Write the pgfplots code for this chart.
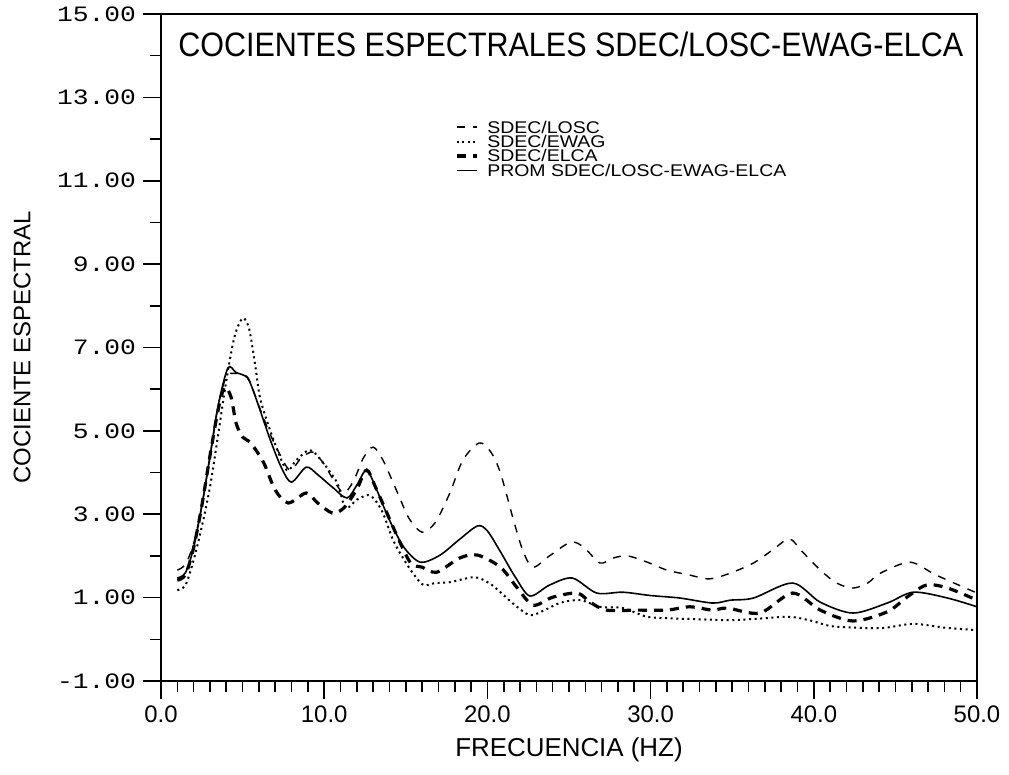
\documentclass[border=0pt]{standalone}
\usepackage{fontspec}
\setmainfont{Liberation Sans}
\newfontfamily\monoW[FakeStretch=1.2]{Liberation Mono}
\newfontfamily\sansW[FakeStretch=1.15]{Liberation Sans}
\newfontfamily\sansN[FakeStretch=0.9]{Liberation Sans}
\usepackage{pgfplots}
\pgfplotsset{compat=1.18}

\pgfplotstableread{
x y
1.0 1.66
1.5 1.80
2.0 2.30
2.5 3.20
3.0 4.40
3.5 5.60
4.0 6.30
4.5 6.38
5.3 6.29
6.0 5.60
6.6 5.00
7.2 4.50
7.9 4.06
8.6 4.35
9.3 4.49
10.0 4.20
10.6 3.80
11.2 3.51
11.8 3.80
12.4 4.35
13.0 4.61
13.6 4.30
14.5 3.51
15.2 2.90
16.0 2.57
16.8 2.80
17.7 3.51
18.5 4.30
19.5 4.71
20.2 4.50
20.8 3.99
21.6 2.86
22.2 2.10
22.8 1.73
23.8 2.00
25.1 2.33
25.9 2.21
26.9 1.83
27.7 1.95
28.6 2.00
29.8 1.85
31.0 1.66
32.3 1.55
33.6 1.45
34.9 1.59
36.3 1.83
37.5 2.15
38.5 2.41
39.3 2.10
40.4 1.66
41.4 1.35
42.4 1.23
43.3 1.35
44.1 1.59
45.9 1.85
47.5 1.54
50.0 1.11
}\losc

\pgfplotstableread{
x y
1.0 1.18
1.5 1.30
2.0 1.90
2.5 2.70
3.0 3.65
3.5 4.90
4.0 6.20
4.5 7.25
5.0 7.70
5.4 7.45
5.8 6.50
6.1 5.74
6.9 4.78
7.7 4.06
8.3 4.30
9.1 4.54
9.8 4.30
10.8 3.75
11.3 3.15
12.0 3.35
12.7 3.46
13.1 3.35
13.6 3.03
14.2 2.40
14.8 1.97
15.5 1.55
16.1 1.30
16.8 1.35
17.7 1.37
19.2 1.49
20.1 1.35
20.8 1.13
21.6 0.85
22.6 0.58
23.5 0.70
24.5 0.88
25.7 0.94
26.9 0.78
28.3 0.75
29.8 0.54
31.5 0.50
33.0 0.48
34.9 0.46
36.8 0.50
38.5 0.54
39.8 0.45
41.0 0.32
42.5 0.28
44.2 0.27
46.1 0.37
48.0 0.28
50.0 0.22
}\ewag

\pgfplotstableread{
x y
1.0 1.42
1.5 1.55
2.0 2.20
2.5 3.20
3.0 4.40
3.5 5.50
3.9 6.05
4.3 5.80
4.6 5.19
5.0 4.85
5.5 4.71
6.3 4.23
7.0 3.58
7.8 3.27
8.9 3.51
9.6 3.27
10.5 3.03
11.2 3.15
12.0 3.60
12.6 4.06
13.2 3.60
14.5 2.45
15.3 1.83
16.0 1.73
16.9 1.61
18.3 1.95
19.4 2.02
20.8 1.73
21.8 1.25
22.8 0.82
24.0 1.01
25.5 1.11
26.3 0.89
27.3 0.70
29.3 0.70
31.0 0.70
32.4 0.78
33.8 0.70
34.7 0.75
36.7 0.63
38.7 1.11
40.4 0.70
42.4 0.44
44.5 0.66
45.7 1.01
46.9 1.30
48.2 1.23
50.0 0.94
}\elca

\pgfplotstableread{
x y
1.0 1.47
1.5 1.60
2.0 2.20
2.5 3.20
3.0 4.37
3.5 5.60
4.1 6.51
4.6 6.40
5.3 6.27
5.8 5.80
6.7 4.78
7.4 4.10
8.0 3.77
8.9 4.13
9.6 3.95
10.5 3.65
11.4 3.39
12.0 3.70
12.6 4.06
13.2 3.60
14.0 2.86
14.9 2.20
15.9 1.85
17.1 2.02
18.3 2.40
19.4 2.72
20.0 2.60
20.8 2.10
21.7 1.50
22.6 1.04
23.8 1.30
25.2 1.47
26.7 1.11
28.3 1.13
30.0 1.05
31.8 0.99
33.8 0.87
34.9 0.94
36.3 0.99
38.7 1.35
40.4 0.89
42.4 0.63
44.5 0.87
46.1 1.13
48.2 0.99
50.0 0.78
}\prom

\begin{document}
\begin{tikzpicture}
\begin{axis}[
  scale only axis, width=408bp, height=333.5bp,
  xmin=0, xmax=50, ymin=-1, ymax=15,
  xtick={0,10,...,50}, xticklabels={0.0,10.0,20.0,30.0,40.0,50.0},
  ytick={-1,1,...,15}, yticklabels={-1.00,1.00,3.00,5.00,7.00,9.00,11.00,13.00,15.00},
  minor x tick num=9, minor y tick num=1,
  tick align=outside, xtick pos=left, ytick pos=left,
  major tick length=9bp, minor tick length=5.5bp,
  tick style={black, line width=0.8bp},
  axis line style={line width=1bp},
  xticklabel style={font=\fontsize{12}{12}\selectfont},
  yticklabel style={font=\monoW\fontsize{11}{11}\selectfont},
  xlabel={FRECUENCIA (HZ)}, ylabel={COCIENTE ESPECTRAL},
  xlabel style={font=\fontsize{13}{13}\selectfont, at={(axis description cs:0.5,-0.1034)}, anchor=center},
  ylabel style={font=\fontsize{12}{12}\selectfont, at={(axis description cs:-0.1703,0.5)}, anchor=center},
  legend cell align=left,
  legend image code/.code={\draw[#1] (0bp,0bp) -- (10bp,0bp);},
  legend style={draw=none, fill=none, at={(0.3526,0.846)}, anchor=north west,
    font=\sansW\fontsize{8.5}{8.5}\selectfont,
    nodes={inner sep=0pt, text height=6bp, text depth=0pt},
    row sep=1.2bp, column sep=4.5bp},
]
\addplot[black, line width=0.7bp, dash pattern=on 4bp off 4bp, smooth, tension=0.5] table {\losc};
\addlegendentry{SDEC/LOSC}
\addplot[black, line width=1bp, dash pattern=on 1bp off 1.8bp, smooth, tension=0.5] table {\ewag};
\addlegendentry{SDEC/EWAG}
\addplot[black, line width=1.6bp, dash pattern=on 4.5bp off 3.5bp, smooth, tension=0.5] table {\elca};
\addlegendentry{SDEC/ELCA}
\addplot[black, line width=0.8bp, smooth, tension=0.5] table {\prom};
\addlegendentry{PROM SDEC/LOSC-EWAG-ELCA}
\node[anchor=west, inner sep=0pt, font=\sansN\fontsize{17}{17}\selectfont] at (rel axis cs:0.0208,0.955) {COCIENTES ESPECTRALES SDEC/LOSC-EWAG-ELCA};
\end{axis}
\pgfresetboundingbox
\useasboundingbox (-80.5bp,-47bp) rectangle (424bp,340.5bp);
\end{tikzpicture}
\end{document}
